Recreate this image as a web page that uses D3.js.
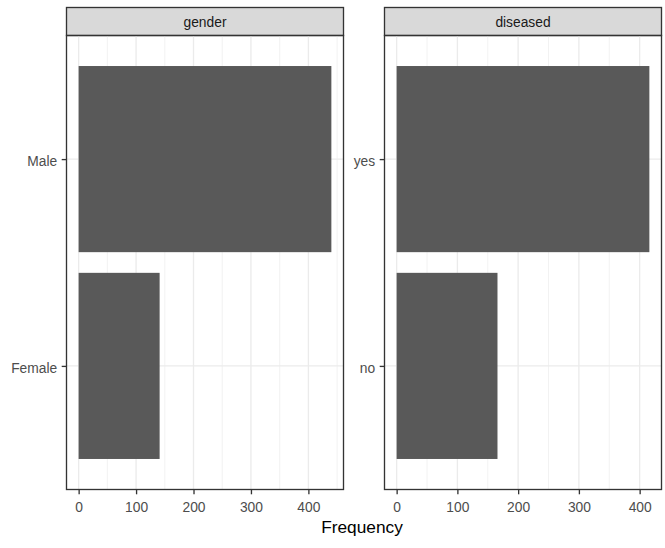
<!DOCTYPE html>
<html>
<head>
<meta charset="utf-8">
<script src="https://cdn.jsdelivr.net/npm/d3@7"></script>
<style>
body{margin:0;background:#fff;}
text{font-family:"Liberation Sans",Arial,sans-serif;}
</style>
</head>
<body>
<svg id="chart" width="665" height="548"></svg>
<script>
const genderCategories = ["Male","Female"];
const genderValues = [440, 141];
const diseasedCategories = ["yes","no"];
const diseasedValues = [416, 166];
const facetTitles = ["gender","diseased"];
const xTicks = [0,100,200,300,400];
const xMinor = [50,150,250,350,450];

const FONT = "Liberation Sans, Arial, sans-serif";
const svg = d3.select("#chart");
const panels = [
  {title: facetTitles[0], cats: genderCategories, vals: genderValues, x0: 66, x1: 344},
  {title: facetTitles[1], cats: diseasedCategories, vals: diseasedValues, x0: 384, x1: 662}
];
const stripTop = 7, panelTop = 35, panelBottom = 490;
const LW = 1.33;

panels.forEach(p => {
  const max = d3.max(p.vals);
  const x = d3.scaleLinear().domain([-0.05*max, 1.05*max]).range([p.x0, p.x1]);
  const n = p.cats.length;
  const y = d3.scaleLinear().domain([0.4, n + 0.6]).range([panelBottom, panelTop]);
  const pos = c => n - p.cats.indexOf(c);

  const g = svg.append("g");
  // strip
  g.append("rect").attr("x", p.x0 + 0.5).attr("y", stripTop + 0.5)
    .attr("width", p.x1 - p.x0 - 1).attr("height", panelTop - stripTop)
    .attr("fill", "#D9D9D9").attr("stroke", "#333333").attr("stroke-width", LW);
  g.append("text").attr("x", (p.x0 + p.x1)/2).attr("y", 26.5)
    .attr("text-anchor", "middle")
    .attr("font-size", 13.8).attr("fill", "#1A1A1A").text(p.title);

  // grid
  const [dmin, dmax] = x.domain();
  xMinor.filter(v => v > dmin && v < dmax).forEach(v => {
    g.append("line").attr("x1", x(v)).attr("x2", x(v)).attr("y1", panelTop).attr("y2", panelBottom)
      .attr("stroke", "#EBEBEB").attr("stroke-width", LW/2);
  });
  xTicks.filter(v => v > dmin && v < dmax).forEach(v => {
    g.append("line").attr("x1", x(v)).attr("x2", x(v)).attr("y1", panelTop).attr("y2", panelBottom)
      .attr("stroke", "#EBEBEB").attr("stroke-width", LW);
  });
  p.cats.forEach(c => {
    g.append("line").attr("x1", p.x0).attr("x2", p.x1).attr("y1", y(pos(c))).attr("y2", y(pos(c)))
      .attr("stroke", "#EBEBEB").attr("stroke-width", LW);
  });

  // bars
  g.selectAll("rect.bar").data(p.cats).enter().append("rect").attr("class","bar")
    .attr("x", x(0))
    .attr("width", (d,i) => x(p.vals[i]) - x(0))
    .attr("y", d => y(pos(d) + 0.45))
    .attr("height", d => y(pos(d) - 0.45) - y(pos(d) + 0.45))
    .attr("fill", "#595959");

  // panel border
  g.append("rect").attr("x", p.x0 + 0.5).attr("y", panelTop + 0.5)
    .attr("width", p.x1 - p.x0 - 1).attr("height", panelBottom - panelTop - 1)
    .attr("fill", "none").attr("stroke", "#333333").attr("stroke-width", LW);

  // x axis
  const xa = g.append("g").attr("transform", `translate(0,${panelBottom})`)
    .call(d3.axisBottom(x).tickValues(xTicks).tickSize(4.3).tickPadding(7.5).tickFormat(d3.format("d")));
  xa.select(".domain").remove();
  xa.selectAll(".tick line").attr("stroke", "#333333").attr("stroke-width", LW);
  xa.selectAll(".tick text").attr("fill", "#4D4D4D").attr("font-size", 13.8)
    .attr("font-family", FONT);

  // y axis
  const yBand = d3.scaleOrdinal().domain(p.cats).range(p.cats.map(c => y(pos(c))));
  const ya = g.append("g").attr("transform", `translate(${p.x0},0)`)
    .call(d3.axisLeft(yBand).tickSize(4.3).tickPadding(4.5));
  ya.select(".domain").remove();
  ya.selectAll(".tick line").attr("stroke", "#333333").attr("stroke-width", LW);
  ya.selectAll(".tick text").attr("fill", "#4D4D4D").attr("font-size", 13.8)
    .attr("font-family", FONT).attr("dy", "0.48em");
});

svg.append("text").attr("x", 362).attr("y", 533).attr("text-anchor", "middle")
  .attr("font-size", 17.3).attr("fill", "#000").text("Frequency");
</script>
</body>
</html>
